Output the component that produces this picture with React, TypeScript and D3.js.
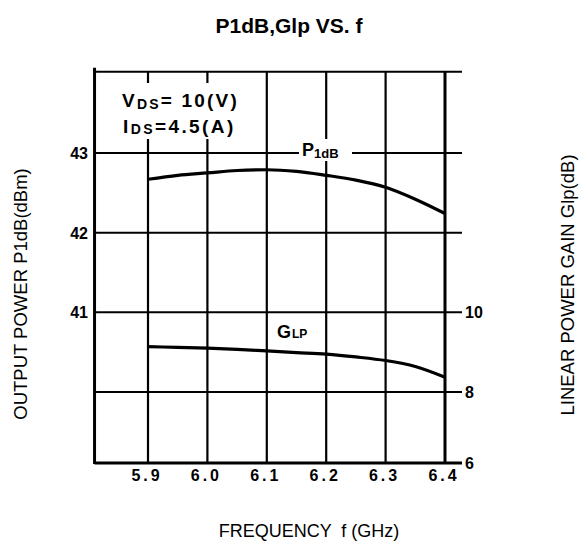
import React from "react";
import * as d3 from "d3";

const FREQ = [5.9, 5.95, 6.0, 6.05, 6.1, 6.15, 6.2, 6.25, 6.3, 6.35, 6.4];
const P1DB = [42.67, 42.72, 42.75, 42.78, 42.79, 42.77, 42.72, 42.66, 42.57, 42.42, 42.24];
const GLP = [9.14, 9.12, 9.1, 9.07, 9.03, 8.99, 8.95, 8.88, 8.79, 8.64, 8.37];
const X_TICKS = [5.9, 6.0, 6.1, 6.2, 6.3, 6.4];
const X_TICK_LABELS = ["5.9", "6.0", "6.1", "6.2", "6.3", "6.4"];
const LEFT_GRID = [40, 41, 42, 43];
const LEFT_TICKS = [41, 42, 43];
const RIGHT_TICKS = [6, 8, 10];

const W = 579;
const H = 542;

export default function App() {
  const x = d3.scaleLinear().domain([5.9, 6.4]).range([148, 445]);
  const yL = d3.scaleLinear().domain([39, 40, 43]).range([463, 392, 153]);
  const yR = d3.scaleLinear().domain([6, 8, 14]).range([463, 392, 153]);

  const xLeft = x(5.81);
  const xExt = 462;
  const yTop = yL(44.02);
  const yBot = yL(39);

  const lineP = d3
    .line<number>()
    .x((_, i) => x(FREQ[i]))
    .y((d) => yL(d))
    .curve(d3.curveMonotoneX);
  const lineG = d3
    .line<number>()
    .x((_, i) => x(FREQ[i]))
    .y((d) => yR(d))
    .curve(d3.curveMonotoneX);

  const sans = "'Liberation Sans', Arial, sans-serif";

  return (
    <svg width={W} height={H} style={{ position: "absolute", left: 0, top: 0, background: "#fff" }}>
      <rect x={0} y={0} width={W} height={H} fill="#fff" />
      <text x={289} y={33} textAnchor="middle" fontFamily={sans} fontWeight="bold" fontSize={21}>
        P1dB,Glp VS. f
      </text>

      {/* grid: verticals */}
      {X_TICKS.map((t) => (
        <line key={"vx" + t} x1={x(t)} x2={x(t)} y1={yTop} y2={yBot} stroke="#000" strokeWidth={t === 6.4 ? 3 : 2.2} />
      ))}
      {/* grid: horizontals */}
      {LEFT_GRID.map((t) => (
        <line key={"hy" + t} x1={xLeft} x2={xExt} y1={yL(t)} y2={yL(t)} stroke="#000" strokeWidth={2} />
      ))}
      {/* frame */}
      <line x1={xLeft} x2={xExt} y1={yTop} y2={yTop} stroke="#000" strokeWidth={2.2} />
      <line x1={xLeft} x2={xExt} y1={yBot} y2={yBot} stroke="#000" strokeWidth={3} />
      <line x1={xLeft} x2={xLeft} y1={yTop - 4} y2={yBot + 1} stroke="#000" strokeWidth={3} />

      {/* annotation box */}
      <rect x={112} y={83} width={142} height={56} fill="#fff" />
      <text x={122} y={107} fontFamily={sans} fontWeight="bold" fontSize={19} letterSpacing={2.2}>
        V<tspan fontSize={14} dy={2}>DS</tspan>
        <tspan dy={-2}>= 10(V)</tspan>
      </text>
      <text x={123} y={133} fontFamily={sans} fontWeight="bold" fontSize={19} letterSpacing={2.4}>
        I<tspan fontSize={14} dy={1}>DS</tspan>
        <tspan dy={-1}>=4.5(A)</tspan>
      </text>

      {/* curves */}
      <path d={lineP(P1DB) || ""} fill="none" stroke="#000" strokeWidth={3.2} />
      <path d={lineG(GLP) || ""} fill="none" stroke="#000" strokeWidth={3.2} />

      {/* curve labels */}
      <rect x={299} y={139} width={53} height={22} fill="#fff" />
      <text x={302} y={156} fontFamily={sans} fontWeight="bold" fontSize={18}>
        P<tspan fontSize={13} dy={2}>1dB</tspan>
      </text>
      <text x={277} y={338} fontFamily={sans} fontWeight="bold" fontSize={18}>
        G<tspan fontSize={12} dx={1}>LP</tspan>
      </text>

      {/* left tick labels */}
      {LEFT_TICKS.map((t) => (
        <text key={"lt" + t} x={88} y={yL(t) + 6} textAnchor="end" fontFamily={sans} fontWeight="bold" fontSize={16}>
          {t}
        </text>
      ))}
      {/* right tick labels */}
      {RIGHT_TICKS.map((t) => (
        <text key={"rt" + t} x={465} y={yR(t) + 6} textAnchor="start" fontFamily={sans} fontWeight="bold" fontSize={16}>
          {t}
        </text>
      ))}
      {/* bottom tick labels */}
      {X_TICKS.map((t, i) => (
        <text key={"bt" + t} x={x(t) - 1} y={481} textAnchor="middle" fontFamily={sans} fontWeight="bold" fontSize={16} letterSpacing={3}>
          {X_TICK_LABELS[i]}
        </text>
      ))}

      {/* axis titles */}
      <text x={309} y={537} textAnchor="middle" fontFamily={sans} fontSize={18} style={{ whiteSpace: "pre" }}>
        {"FREQUENCY  f (GHz)"}
      </text>
      <text
        transform={`translate(27,${294}) rotate(-90)`}
        textAnchor="middle"
        fontFamily={sans}
        fontSize={18.5}
      >
        OUTPUT POWER P1dB(dBm)
      </text>
      <text
        transform={`translate(574,${285}) rotate(-90)`}
        textAnchor="middle"
        fontFamily={sans}
        fontSize={18.5}
      >
        LINEAR POWER GAIN Glp(dB)
      </text>
    </svg>
  );
}
